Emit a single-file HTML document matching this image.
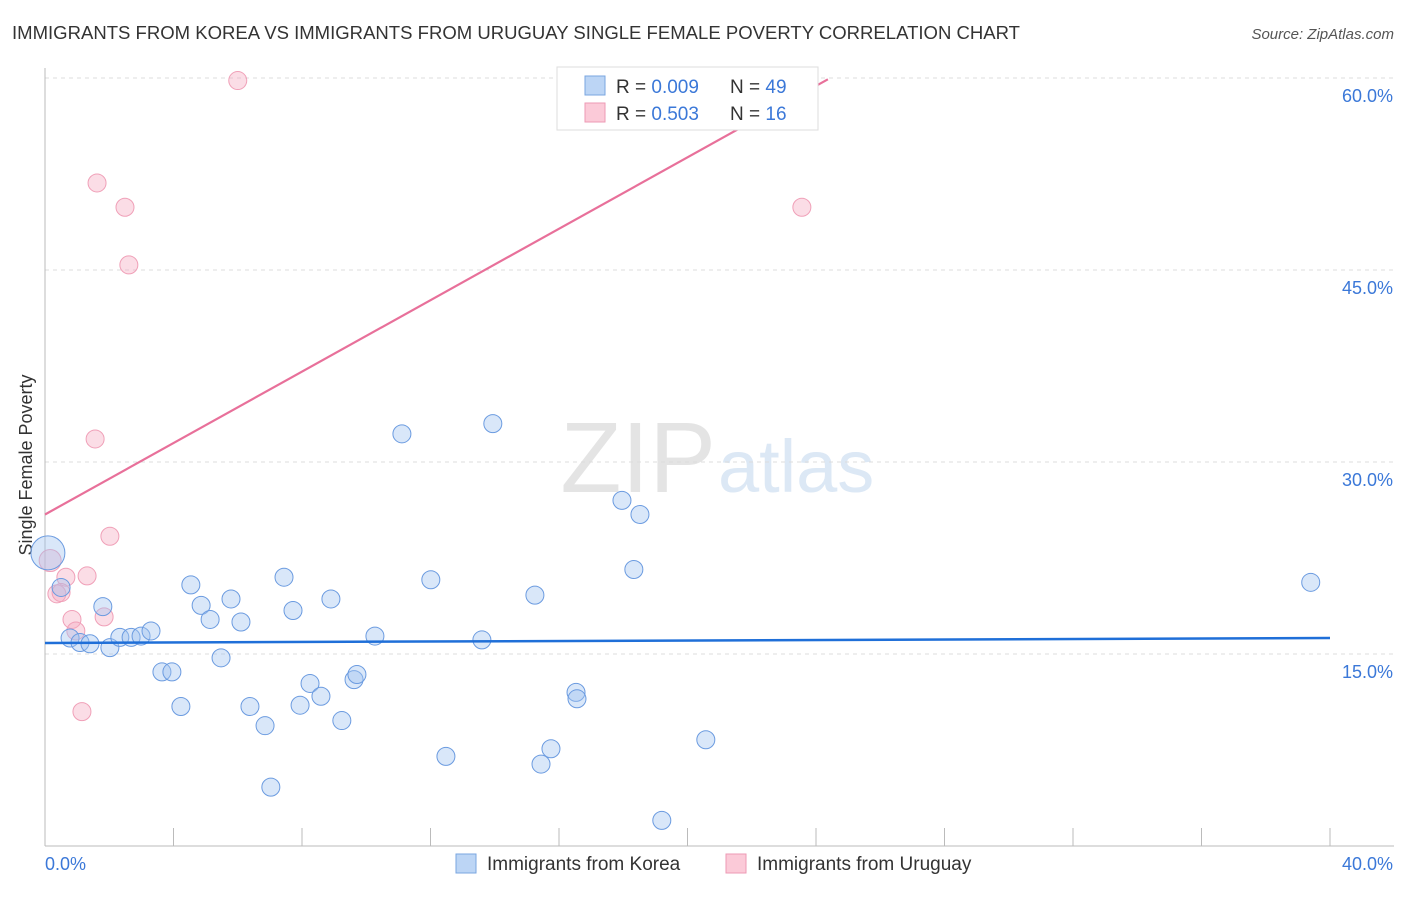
<!DOCTYPE html>
<html><head><meta charset="utf-8"><style>
body{margin:0;background:#fff;font-family:"Liberation Sans",sans-serif}
svg text{font-family:"Liberation Sans",sans-serif}
</style></head><body>
<svg width="1406" height="892">
<text x="12" y="39" font-size="18" fill="#333" textLength="1008" lengthAdjust="spacingAndGlyphs">IMMIGRANTS FROM KOREA VS IMMIGRANTS FROM URUGUAY SINGLE FEMALE POVERTY CORRELATION CHART</text>
<text x="1394" y="39" font-size="15" fill="#555" font-style="italic" text-anchor="end">Source: ZipAtlas.com</text>
<text x="716" y="492" font-size="100" fill="#e4e4e4" font-family="Liberation Serif" text-anchor="end">ZIP</text>
<text x="718" y="492" font-size="74" fill="#dce8f5">atlas</text>
<g id="grid"></g>
<line x1="45" y1="68" x2="45" y2="846" stroke="#bbb"/>
<line x1="45" y1="846" x2="1394" y2="846" stroke="#bbb"/>
<g id="xticks"></g>
<text x="22" y="455" font-size="18" fill="#333" transform="rotate(-90 32 455)" text-anchor="middle">Single Female Poverty</text>
<text x="45" y="870" font-size="18" fill="#3b78d8">0.0%</text>
<text x="1393" y="870" font-size="18" fill="#3b78d8" text-anchor="end">40.0%</text>
<g id="pts"></g>
<g id="lines"></g>
<g>
<rect x="557" y="67" width="261" height="63" fill="#fff" stroke="#ddd"/>
<rect x="585" y="76" width="20" height="19" fill="#bcd5f5" stroke="#7aa6e0"/>
<rect x="585" y="103" width="20" height="19" fill="#fbcad8" stroke="#ee9ab4"/>
<text x="616" y="93" font-size="19" fill="#333">R = <tspan fill="#3b78d8">0.009</tspan><tspan x="730">N = </tspan><tspan fill="#3b78d8">49</tspan></text>
<text x="616" y="120" font-size="19" fill="#333">R = <tspan fill="#3b78d8"> 0.503</tspan><tspan x="730">N = </tspan><tspan fill="#3b78d8"> 16</tspan></text>
</g>
<g>
<rect x="456" y="854" width="20" height="19" fill="#bcd5f5" stroke="#7aa6e0"/>
<text x="487" y="870" font-size="19" fill="#333">Immigrants from Korea</text>
<rect x="726" y="854" width="20" height="19" fill="#fbcad8" stroke="#ee9ab4"/>
<text x="757" y="870" font-size="19" fill="#333">Immigrants from Uruguay</text>
</g>
</svg>
<script>
const yTicks=[15,30,45,60];
const koreaX=[0.09,0.5,0.78,1.09,1.4,1.8,2.02,2.33,2.68,2.99,3.3,3.64,3.95,4.23,4.54,4.86,5.14,5.48,5.79,6.1,6.38,6.85,7.03,7.44,7.72,7.94,8.25,8.59,8.9,9.24,9.62,9.71,10.27,11.11,12.01,12.48,13.6,13.94,15.25,15.44,15.75,16.53,16.56,17.96,18.33,18.52,19.2,20.57,39.4];
const koreaY=[22.9,20.2,16.25,15.9,15.8,18.7,15.5,16.3,16.3,16.4,16.8,13.6,13.6,10.9,20.4,18.8,17.7,14.7,19.3,17.5,10.9,9.4,4.6,21.0,18.4,11.0,12.7,11.7,19.3,9.8,13.0,13.4,16.4,32.2,20.8,7.0,16.1,33.0,19.6,6.4,7.6,12.0,11.5,27.0,21.6,25.9,2.0,8.3,20.6];
const uruX=[6.0,1.62,2.49,2.61,23.56,1.56,2.02,0.16,0.65,1.31,0.37,0.5,0.84,0.96,1.84,1.15];
const uruY=[59.8,51.8,49.9,45.4,49.9,31.8,24.2,22.3,21.0,21.1,19.7,19.8,17.7,16.8,17.9,10.5];
const koreaTrend=[15.86,16.25];
const uruTrend=[25.9,59.9];
const uruTrendEndX=24.37;
const NS="http://www.w3.org/2000/svg";
const sx=v=>45+v/40*1285, sy=v=>846-v/15*192;
function mk(t,a,p){const e=document.createElementNS(NS,t);for(const k in a)e.setAttribute(k,a[k]);document.getElementById(p).appendChild(e);return e;}
yTicks.forEach(t=>{
 const l=mk('line',{x1:45,x2:1394,y1:sy(t),y2:sy(t),stroke:'#ddd','stroke-dasharray':'4,4'},'grid');
 
 
 const tx=mk('text',{x:1393,y:sy(t)+24,'font-size':18,fill:'#3b78d8','text-anchor':'end'},'grid');
 tx.textContent=t.toFixed(1)+'%';
 
 
});
for(let i=0;i<=10;i++){const l=mk('line',{x1:sx(i*4),x2:sx(i*4),y1:828,y2:846,stroke:'#bbb'},'xticks');
 
 }
uruX.forEach((x,i)=>{const c=mk('circle',{cx:sx(x),cy:sy(uruY[i]),r:i==7?11:9,fill:'rgba(246,170,192,0.4)',stroke:'#f0a0b8','stroke-width':1},'pts');
 
 });
koreaX.forEach((x,i)=>{const c=mk('circle',{cx:sx(x),cy:sy(koreaY[i]),r:i==0?17:9,fill:'rgba(160,196,240,0.4)',stroke:'#6b9be0','stroke-width':1},'pts');
 
 });
const k=mk('line',{x1:sx(0),y1:sy(koreaTrend[0]),x2:sx(40),y2:sy(koreaTrend[1]),stroke:'#1f6fd8','stroke-width':2.5},'lines');


const u=mk('line',{x1:sx(0),y1:sy(uruTrend[0]),x2:sx(uruTrendEndX),y2:sy(uruTrend[1]),stroke:'#e8709a','stroke-width':2.2},'lines');


</script>
</body></html>
